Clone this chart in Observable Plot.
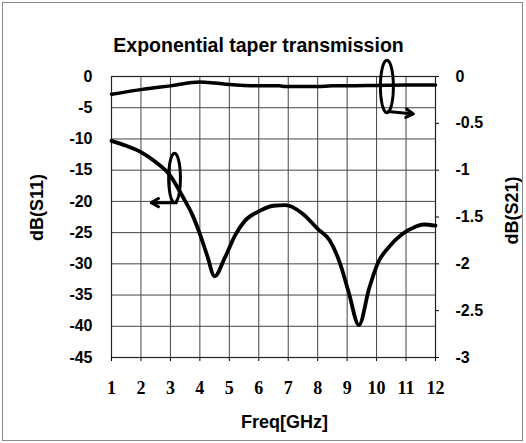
<!DOCTYPE html>
<html>
<head>
<meta charset="utf-8">
<script src="https://cdn.jsdelivr.net/npm/d3@7"></script>
<script src="https://cdn.jsdelivr.net/npm/@observablehq/plot@0.6"></script>
<style>
  html, body { margin: 0; padding: 0; background: #fff; }
  #wrap { position: relative; width: 526px; height: 443px; overflow: hidden; }
  #border { position: absolute; left: 2px; top: 2px; width: 519px; height: 437px; border: 1px solid #8a8a8a; pointer-events: none; }
</style>
</head>
<body>
<div id="wrap"><div id="border"></div></div>
<script>
// ---- data ----
const titleText = "Exponential taper transmission";
const xLabel = "Freq[GHz]";
const leftLabel = "dB(S11)";
const rightLabel = "dB(S21)";

const freqTicks = [1, 2, 3, 4, 5, 6, 7, 8, 9, 10, 11, 12];
const s11Ticks = [0, -5, -10, -15, -20, -25, -30, -35, -40, -45];
const s21Ticks = [0, -0.5, -1, -1.5, -2, -2.5, -3];

const s11Freq = [1, 1.5, 2, 2.5, 3, 3.4, 3.75, 4, 4.25, 4.5, 4.85, 5.2, 5.55, 6, 6.5, 6.9, 7.5, 8, 8.4, 8.75, 9.05, 9.4, 9.75, 10.05, 10.4, 10.85, 11.3, 11.6, 12];
const s11Vals = [-10.3, -11.1, -12.1, -13.7, -15.9, -19.1, -22.2, -25.2, -28.7, -32, -29, -25.4, -23, -21.6, -20.7, -20.6, -22, -24.4, -26.2, -29.8, -34.5, -39.8, -33.9, -29.8, -27.4, -25.3, -24.1, -23.7, -23.9];

const s21Freq = [1, 2, 3, 4, 4.5, 5, 5.5, 6, 6.7, 6.9, 8, 8.5, 9, 10, 11, 12];
const s21Vals = [-0.19, -0.14, -0.10, -0.06, -0.07, -0.085, -0.095, -0.1, -0.1, -0.108, -0.108, -0.1, -0.1, -0.095, -0.09, -0.09];

// annotation ellipses (centre freq, centre in S11 units, radii) and arrows
const ellipseCx = [3.14, 10.35];
const ellipseCy = [-16.25, -1.6];
const ellipseRx = [0.2, 0.22];
const ellipseRy = [3.95, 4.2];
const arrowX1 = [3.2, 10.4];
const arrowY1 = [-20.2, -5.6];
const arrowX2 = [2.35, 11.25];
const arrowY2 = [-20.2, -6.0];

// ---- build tables ----
const ratio = 15; // S11 scale span (45) / S21 span (3)
const s11 = s11Freq.map((f, i) => ({f, v: s11Vals[i]}));
const s21 = s21Freq.map((f, i) => ({f, v: s21Vals[i] * ratio}));
const ellipses = [];
ellipseCx.forEach((cx, k) => {
  for (let i = 0; i <= 72; i++) {
    const t = (i / 72) * 2 * Math.PI;
    ellipses.push({k, x: cx + ellipseRx[k] * Math.cos(t), y: ellipseCy[k] + ellipseRy[k] * Math.sin(t)});
  }
});
const arrows = arrowX1.map((x1, i) => ({x1, y1: arrowY1[i], x2: arrowX2[i], y2: arrowY2[i]}));

const sans = "Liberation Sans, Arial, sans-serif";
const serif = "Liberation Serif, Times New Roman, serif";

const chart = Plot.plot({
  width: 526,
  height: 443,
  marginLeft: 111,
  marginRight: 91,
  marginTop: 76,
  marginBottom: 86,
  style: {fontFamily: sans, fontSize: "16px", color: "#000", background: "transparent"},
  x: {domain: [1, 12]},
  y: {domain: [-45, 0]},
  marks: [
    Plot.gridX(freqTicks, {stroke: "#444", strokeOpacity: 1, strokeWidth: 1}),
    Plot.gridY(s11Ticks, {stroke: "#444", strokeOpacity: 1, strokeWidth: 1}),
    Plot.frame({stroke: "#222", strokeWidth: 1.2}),
    Plot.axisX(freqTicks, {
      tickSize: 4, tickPadding: 20, fontFamily: serif, fontWeight: "bold", fontSize: 18,
      label: null, tickFormat: d => String(d)
    }),
    Plot.axisY(s11Ticks, {
      anchor: "left", tickSize: 0, tickPadding: 19, fontWeight: "bold", fontSize: 16,
      label: null, tickFormat: d => String(d)
    }),
    Plot.axisY(s21Ticks.map(d => d * ratio), {
      anchor: "right", tickSize: 3, tickPadding: 17, fontWeight: "bold", fontSize: 16,
      label: null, tickFormat: d => String(Math.round(d / ratio * 10) / 10)
    }),
    Plot.line(s21, {x: "f", y: "v", stroke: "#000", strokeWidth: 3.5, curve: "monotone-x"}),
    Plot.line(s11, {x: "f", y: "v", stroke: "#000", strokeWidth: 3.8, curve: "monotone-x"}),
    Plot.line(ellipses, {x: "x", y: "y", z: "k", stroke: "#000", strokeWidth: 3, curve: "linear"}),
    Plot.arrow(arrows, {x1: "x1", y1: "y1", x2: "x2", y2: "y2", stroke: "#000", strokeWidth: 3, headLength: 10}),
    Plot.text([titleText], {
      frameAnchor: "top", lineAnchor: "middle", dx: -15, dy: -31, text: d => d,
      fontSize: 19.5, fontWeight: "bold", fontFamily: sans
    }),
    Plot.text([xLabel], {
      frameAnchor: "bottom", lineAnchor: "middle", dx: 11, dy: 65, text: d => d,
      fontSize: 18, fontWeight: "bold", fontFamily: sans
    }),
    Plot.text([leftLabel], {
      frameAnchor: "left", textAnchor: "middle", lineAnchor: "middle", rotate: -90, dx: -74, dy: -9.5, text: d => d,
      fontSize: 18, fontWeight: "bold", fontFamily: sans
    }),
    Plot.text([rightLabel], {
      frameAnchor: "right", textAnchor: "middle", lineAnchor: "middle", rotate: -90, dx: 77, dy: -6.5, text: d => d,
      fontSize: 18, fontWeight: "bold", fontFamily: sans
    })
  ]
});

document.getElementById("wrap").prepend(chart);
</script>
</body>
</html>
